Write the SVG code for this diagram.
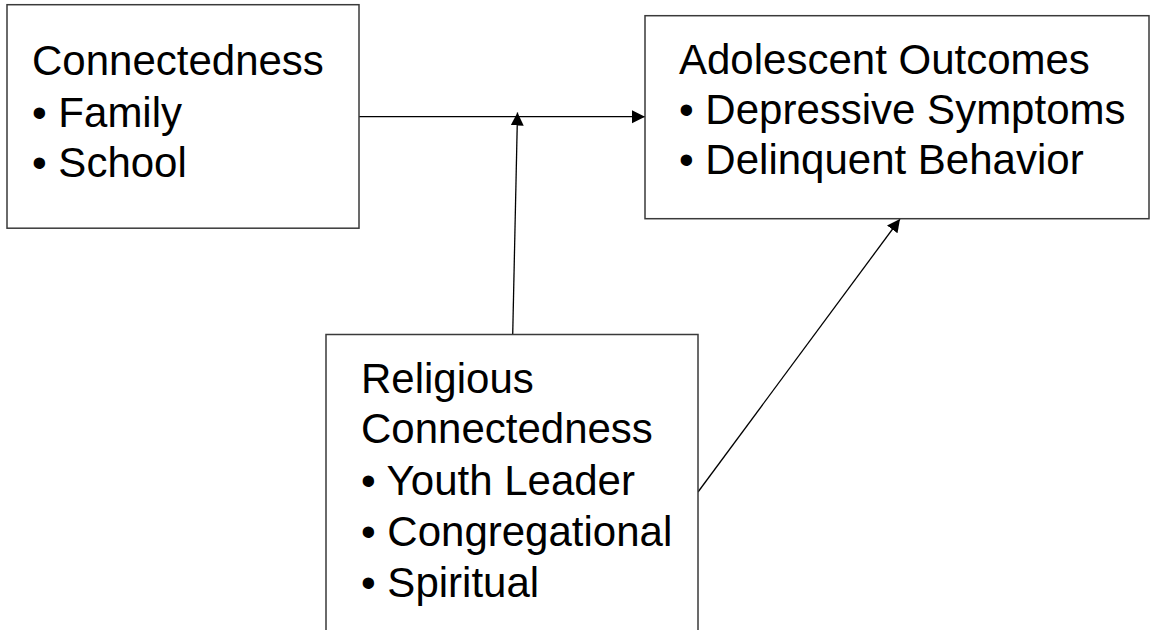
<svg xmlns="http://www.w3.org/2000/svg" width="1151" height="630" viewBox="0 0 1151 630">
  <defs>
    <marker id="arrow" markerUnits="userSpaceOnUse" markerWidth="14" markerHeight="14" refX="13" refY="6.5" orient="auto">
      <path d="M0,0 L13,6.5 L0,13 z" fill="#000"/>
    </marker>
    <style>
      .box { fill: #fff; stroke: #3a3a3a; stroke-width: 1.5; }
      .lbl { font-family: "Liberation Sans", Arial, sans-serif; font-size: 42px; fill: #000; }
      .conn { stroke: #000; stroke-width: 1.3; fill: none; }
    </style>
  </defs>
  <rect width="1151" height="630" fill="#fff"/>
  <g id="connectors">
    <line class="conn" x1="359" y1="116.7" x2="645" y2="116.7" marker-end="url(#arrow)"/>
    <line class="conn" x1="512.7" y1="335" x2="517.5" y2="112.5" marker-end="url(#arrow)"/>
    <line class="conn" x1="698" y1="492" x2="900" y2="219" marker-end="url(#arrow)"/>
  </g>
  <g id="connectedness">
    <rect class="box" x="7" y="4.7" width="352" height="223.5"/>
    <text class="lbl" x="32" y="75">Connectedness</text>
    <text class="lbl" x="32" y="127">• Family</text>
    <text class="lbl" x="32" y="177">• School</text>
  </g>
  <g id="outcomes">
    <rect class="box" x="645" y="15.7" width="504" height="203"/>
    <text class="lbl" x="679" y="74">Adolescent Outcomes</text>
    <text class="lbl" x="679" y="124">• Depressive Symptoms</text>
    <text class="lbl" x="679" y="174">• Delinquent Behavior</text>
  </g>
  <g id="religious">
    <rect class="box" x="326" y="334.5" width="372" height="310"/>
    <text class="lbl" x="361" y="393">Religious</text>
    <text class="lbl" x="361" y="443">Connectedness</text>
    <text class="lbl" x="361" y="495">• Youth Leader</text>
    <text class="lbl" x="361" y="546">• Congregational</text>
    <text class="lbl" x="361" y="597">• Spiritual</text>
  </g>
</svg>
